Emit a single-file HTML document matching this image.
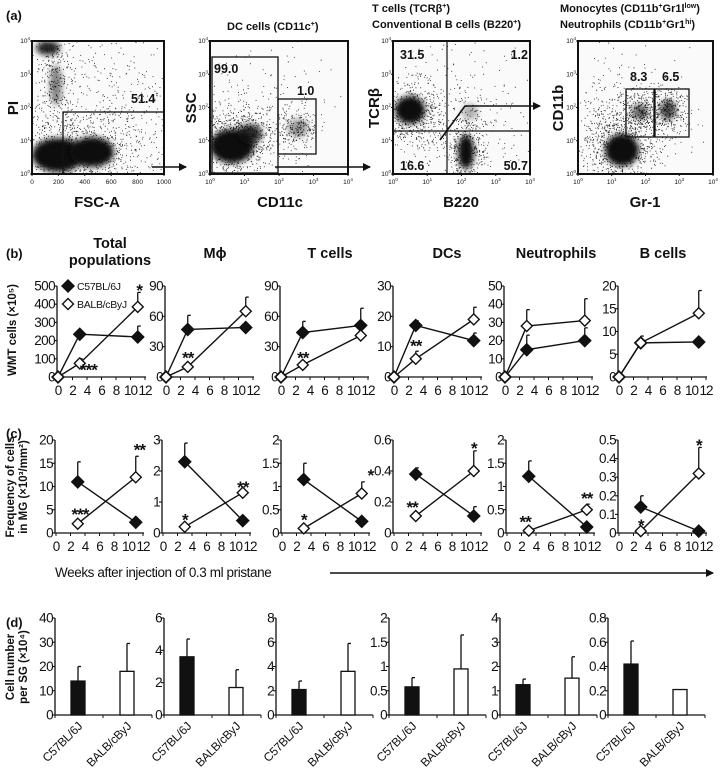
<!DOCTYPE html>
<html><head><meta charset="utf-8">
<style>
html,body{margin:0;padding:0;background:#fff;}
svg{display:block;font-family:"Liberation Sans",Arial,sans-serif;}
</style></head>
<body>
<svg id="fig" width="720" height="772" viewBox="0 0 720 772" xmlns="http://www.w3.org/2000/svg">
<defs>
<filter id="blur3" x="-50%" y="-50%" width="200%" height="200%"><feGaussianBlur stdDeviation="3"/></filter>
<filter id="blur6" x="-50%" y="-50%" width="200%" height="200%"><feGaussianBlur stdDeviation="7"/></filter>
<marker id="ah" markerWidth="8" markerHeight="8" refX="7" refY="4" orient="auto" markerUnits="userSpaceOnUse"><path d="M0,0 L8,4 L0,8 z" fill="#111"/></marker>
</defs>
<g id="panelA"></g>
<g id="panelB"></g>
<g id="panelC"></g>
<g id="panelD"></g>
</svg>
<script>
// ---------- data ----------
const titlesB = ["Total populations","M\u03d5","T cells","DCs","Neutrophils","B cells"];
const weeksB = [0,3,11];
const weeksC = [3,11];
const xTicks = [0,2,4,6,8,10,12];
const bMax = [500,90,90,30,50,20];
const bTicks = [[0,100,200,300,400,500],[0,30,60,90],[0,30,60,90],[0,10,20,30],[0,10,20,30,40,50],[0,5,10,15,20]];
const bC57 = [[0,235,220],[0,47,49],[0,44,51],[0,17,12],[0,15,20],[0,7.5,7.7]];
const bC57Err = [[0,0,280],[0,61,0],[0,55,68],[0,18.5,14.5],[0,23,27],[0,9,0]];
const bBalb = [[0,75,385],[0,10,65],[0,12,41],[0,6,19],[0,28,31],[0,7.5,14]];
const bBalbErr = [[0,100,465],[0,0,79],[0,0,0],[0,8.5,23],[0,37,43],[0,0,19]];
const bStars = [[0,4.2,68,"***"],[0,11.2,505,"*"],[1,3,24,"**"],[2,3,24,"**"],[3,3,12,"**"]];
const cMax = [20,3,2,0.6,2,0.5];
const cTicks = [[0,5,10,15,20],[0,1,2,3],[0,0.5,1,1.5,2],[0,0.2,0.4,0.6],[0,0.5,1,1.5,2],[0,0.1,0.2,0.3,0.4,0.5]];
const cC57 = [[11,2.3],[2.3,0.4],[1.15,0.25],[0.38,0.11],[1.22,0.13],[0.14,0.01]];
const cC57Err = [[15.3,0],[2.9,0],[1.5,0],[0.42,0.17],[1.55,0],[0.2,0]];
const cBalb = [[2,12],[0.2,1.3],[0.1,0.85],[0.11,0.4],[0.05,0.5],[0.01,0.32]];
const cBalbErr = [[0,16.5],[0,0],[0,1.1],[0,0.53],[0,0.62],[0,0.46]];
const cStars = [[0,3.3,5.2,"***"],[0,11.5,19,"**"],[1,3,0.6,"*"],[1,11,1.65,"**"],[2,3,0.4,"*"],[2,12.2,1.35,"*"],[3,2.5,0.2,"**"],[3,11,0.58,"*"],[4,2.5,0.36,"**"],[4,11,0.86,"**"],[5,3,0.07,"*"],[5,11,0.5,"*"]];
const dMax = [40,6,8,2,4,0.8];
const dTicks = [[0,10,20,30,40],[0,2,4,6],[0,2,4,6,8],[0,0.5,1,1.5,2],[0,1,2,3,4],[0,0.2,0.4,0.6,0.8]];
const dC57 = [14,3.6,2.1,0.58,1.25,0.42];
const dC57Err = [20,4.7,2.8,0.77,1.48,0.61];
const dBalb = [18,1.7,3.6,0.95,1.52,0.21];
const dBalbErr = [29.5,2.8,5.9,1.65,2.4,0];
const strains = ["C57BL/6J","BALB/cByJ"];

// ---------- helpers ----------
const NS="http://www.w3.org/2000/svg";
function mk(tag, parent, attrs){const e=document.createElementNS(NS,tag);for(const k in attrs)e.setAttribute(k,attrs[k]);parent.appendChild(e);return e;}
function txt(parent,x,y,s,size,opts){opts=opts||{};const e=mk("text",parent,{x:x,y:y,"font-size":size,fill:"#111","text-anchor":opts.anchor||"start","font-weight":opts.bold?"bold":"normal"});if(opts.rot)e.setAttribute("transform","rotate("+opts.rot+" "+x+" "+y+")");if(opts.ls)e.setAttribute("letter-spacing",opts.ls);e.textContent=s;return e;}
function fmt(v){return String(v);}
const axB=[57,165,280,393,504,618];
const axC=[55,162,281,393,506,618];
const axD=[55,164,276,389,500,608];
const PXW=7.25;

function diamond(g,x,y,filled,r){return mk("path",g,{d:"M"+x+","+(y-r)+" L"+(x+r)+","+y+" L"+x+","+(y+r)+" L"+(x-r)+","+y+" Z",fill:filled?"#111":"#fff",stroke:"#111","stroke-width":1.4});}

function linePanel(g, ax, top, y0, max, ticks, weeks, c57, c57e, balb, balbe, idx, prefix){
  const ys=v=>y0-(v/max)*(y0-top);
  const xs=w=>ax+1+w*PXW;
  const axes=mk("g",g,{});
  
  
  mk("line",axes,{x1:ax,y1:top,x2:ax,y2:y0,stroke:"#111","stroke-width":1.3});
  mk("line",axes,{x1:ax,y1:y0,x2:xs(12)+1,y2:y0,stroke:"#111","stroke-width":1.3});
  ticks.forEach(t=>{const y=ys(t);mk("line",axes,{x1:ax-3,y1:y,x2:ax,y2:y,stroke:"#111","stroke-width":1.1});
    const l=txt(axes,ax-2,y+4.5,fmt(t),13.5,{anchor:"end",ls:-0.6});
    
    });
  xTicks.forEach(t=>{const x=xs(t);mk("line",axes,{x1:x,y1:y0,x2:x,y2:y0+3,stroke:"#111","stroke-width":1});
    const l=txt(axes,x,y0+18,String(t),13.5,{anchor:"middle",ls:-1});
    
    });
  [[c57,c57e,true,"c57bl"],[balb,balbe,false,"balb"]].forEach(([vals,errs,filled,nm])=>{
    const s=mk("g",g,{});
    
    
    let d="";vals.forEach((v,i)=>{d+=(i?"L":"M")+xs(weeks[i])+","+ys(v)+" ";});
    mk("path",s,{d:d,fill:"none",stroke:"#111","stroke-width":1.4});
    vals.forEach((v,i)=>{const e=errs[i];if(e>v){const x=xs(weeks[i]);
      mk("line",s,{x1:x,y1:ys(v),x2:x,y2:ys(e),stroke:"#111","stroke-width":1.3});
      mk("line",s,{x1:x,y1:ys(e),x2:x+3,y2:ys(e),stroke:"#111","stroke-width":1.3});}});
    vals.forEach((v,i)=>{const p=diamond(s,xs(weeks[i]),ys(v),filled,filled?6:5.5);
      
      });
  });
  return {xs:xs,ys:ys};
}

// ---------- panel B ----------
const gB=document.getElementById("panelB");
txt(gB,6,258,"(b)",13,{bold:true});
const tPos=[110,215,330,447,556,663];
titlesB.forEach((t,i)=>{
  let el;
  if(i===0){el=mk("text",gB,{x:tPos[i],y:248,"font-size":14.5,"font-weight":"bold","text-anchor":"middle",fill:"#111"});
    el.innerHTML='<tspan x="'+tPos[i]+'" dy="0">Total</tspan><tspan x="'+tPos[i]+'" dy="17">populations</tspan>';}
  else el=txt(gB,tPos[i],258,t,14.5,{anchor:"middle",bold:true});
  
  
});
const bScales=[];
for(let i=0;i<6;i++){bScales.push(linePanel(gB,axB[i],286,377,bMax[i],bTicks[i],weeksB,bC57[i],bC57Err[i],bBalb[i],bBalbErr[i],i,"b"));}
bStars.forEach(([p,w,v,s])=>{const sc=bScales[p];const e=txt(gB,sc.xs(w),sc.ys(v)+11,s,17,{anchor:"middle",bold:true,ls:-1});
  
  });
const yb=txt(gB,16,330,"WMT cells (\u00d710\u2075)",11.5,{anchor:"middle",bold:true,rot:-90});


const lg=mk("g",gB,{});


diamond(lg,68,286,true,6);
txt(lg,77,290,"C57BL/6J",10.5,{ls:-0.3});
diamond(lg,68,304,false,5.5);
txt(lg,77,308,"BALB/cByJ",10.5,{ls:-0.3});

// ---------- panel C ----------
const gC=document.getElementById("panelC");
txt(gC,6,438,"(c)",13,{bold:true});
const cScales=[];
for(let i=0;i<6;i++){cScales.push(linePanel(gC,axC[i],440,533,cMax[i],cTicks[i],weeksC,cC57[i],cC57Err[i],cBalb[i],cBalbErr[i],i,"c"));}
cStars.forEach(([p,w,v,s])=>{const sc=cScales[p];const e=txt(gC,sc.xs(w),sc.ys(v)+11,s,17,{anchor:"middle",bold:true,ls:-1});
  
  });
const yc=mk("text",gC,{x:0,y:0,"font-size":11.5,"font-weight":"bold","text-anchor":"middle",fill:"#111",transform:"translate(0,487) rotate(-90)"});
yc.innerHTML='<tspan x="0" y="14">Frequency of cells</tspan><tspan x="0" y="27">in MG (\u00d710\u00b3/mm\u00b2)</tspan>';


const wk=txt(gC,55,577,"Weeks after injection of 0.3 ml pristane",13.5,{ls:-0.4});


const arr=mk("line",gC,{x1:330,y1:573,x2:713,y2:573,stroke:"#111","stroke-width":1.6,"marker-end":"url(#ah)"});



// ---------- panel D ----------
const gD=document.getElementById("panelD");
txt(gD,6,627,"(d)",13,{bold:true});
const yd=mk("text",gD,{x:0,y:0,"font-size":11.5,"font-weight":"bold","text-anchor":"middle",fill:"#111",transform:"translate(0,667) rotate(-90)"});
yd.innerHTML='<tspan x="0" y="14">Cell number</tspan><tspan x="0" y="27">per SG (\u00d710\u2074)</tspan>';


for(let i=0;i<6;i++){
  const ax=axD[i],top=618,y0=715,max=dMax[i];
  const ys=v=>y0-(v/max)*(y0-top);
  const g=mk("g",gD,{});
  
  
  mk("line",g,{x1:ax,y1:top,x2:ax,y2:y0,stroke:"#111","stroke-width":1.3});
  mk("line",g,{x1:ax,y1:y0,x2:ax+97,y2:y0,stroke:"#111","stroke-width":1.3});
  [0,48,97].forEach(o=>mk("line",g,{x1:ax+o,y1:y0,x2:ax+o,y2:y0+3,stroke:"#111","stroke-width":1}));
  dTicks[i].forEach(t=>{const y=ys(t);mk("line",g,{x1:ax-3,y1:y,x2:ax,y2:y,stroke:"#111","stroke-width":1.1});
    const l=txt(g,ax-2,y+4.5,fmt(t),13.5,{anchor:"end",ls:-0.6});
    
    });
  [[dC57[i],dC57Err[i],16,"#111","c57bl"],[dBalb[i],dBalbErr[i],65,"#fff","balb"]].forEach(([v,e,o,fill,nm],k)=>{
    if(e>v){mk("line",g,{x1:ax+o+7,y1:ys(v),x2:ax+o+7,y2:ys(e),stroke:"#111","stroke-width":1.3});
      mk("line",g,{x1:ax+o+7,y1:ys(e),x2:ax+o+10,y2:ys(e),stroke:"#111","stroke-width":1.3});}
    const b=mk("rect",g,{x:ax+o,y:ys(v),width:14,height:y0-ys(v),fill:fill,stroke:"#111","stroke-width":1.3});
    
    
    const l=txt(g,ax+o+12,727,strains[k],12,{anchor:"end",rot:-45,ls:-0.3});
    
    
  });
}

// ---------- panel A (flow cytometry density, decorative) ----------
const gA=document.getElementById("panelA");
txt(gA,6,20,"(a)",13,{bold:true});
let seed=12345;
function rnd(){seed=(seed*1103515245+12345)%2147483648;return seed/2147483648;}
function gauss(){let u=0,v=0;while(u===0)u=rnd();v=rnd();return Math.sqrt(-2*Math.log(u))*Math.cos(2*Math.PI*v);}
function blob(g,cx,cy,rx,ry,op,f){mk("ellipse",g,{cx:cx,cy:cy,rx:rx,ry:ry,fill:"#111",opacity:op,filter:"url(#"+(f||"blur3")+")"});}
function speckle(g,cx,cy,sx,sy,n){let d="";for(let k=0;k<n;k++){const x=cx+gauss()*sx,y=cy+gauss()*sy;d+="M"+x.toFixed(1)+","+y.toFixed(1)+"h0.9v0.9h-0.9z";}mk("path",g,{d:d,fill:"#222"});}
function flowPlot(x0,y0,x1,y1,name,xlog,clusters,specks){
  const g=mk("g",gA,{});
  
  
  const cp="clip-"+name;
  const c=mk("clipPath",g,{id:cp});mk("rect",c,{x:x0,y:y0,width:x1-x0,height:y1-y0});
  const inner=mk("g",g,{"clip-path":"url(#"+cp+")"});
  mk("rect",inner,{x:x0,y:y0,width:x1-x0,height:y1-y0,fill:"#fafafa"});
  specks.forEach(s=>speckle(inner,...s));
  clusters.forEach(cl=>blob(inner,...cl));
  mk("rect",g,{x:x0,y:y0,width:x1-x0,height:y1-y0,fill:"none",stroke:"#111","stroke-width":2});
  const h=(y1-y0);
  for(let k=0;k<=4;k++){const y=y1-k*h/4;
    mk("line",g,{x1:x0-2,y1:y,x2:x0,y2:y,stroke:"#111","stroke-width":1});
    const t=mk("text",g,{x:x0-2,y:y+2,"font-size":6.5,"text-anchor":"end",fill:"#111"});t.innerHTML='10<tspan dy="-3" font-size="4.5">'+k+'</tspan>';}
  const w=(x1-x0);
  if(xlog){for(let k=0;k<=4;k++){const x=x0+k*w/4;mk("line",g,{x1:x,y1:y1,x2:x,y2:y1+2,stroke:"#111","stroke-width":1});
    const t=mk("text",g,{x:x,y:y1+10,"font-size":6.5,"text-anchor":"middle",fill:"#111"});t.innerHTML='10<tspan dy="-3" font-size="4.5">'+k+'</tspan>';}}
  else{[0,200,400,600,800,1000].forEach((v)=>{const x=x0+v/1000*w;mk("line",g,{x1:x,y1:y1,x2:x,y2:y1+2,stroke:"#111","stroke-width":1});
    txt(g,x,y1+10,String(v),6.5,{anchor:"middle"});});}
  return g;
}
const p1=flowPlot(32,41,164,174,"flow-plot-pi-fsc",false,
  [[58,155,26,17,1],[92,152,22,15,1],[48,48,12,7,0.9],[56,85,6,20,0.5]],
  [[75,150,35,20,900],[55,70,10,30,300],[110,110,45,45,500]]);
mk("rect",p1,{x:63,y:112,width:101,height:62,fill:"none",stroke:"#111","stroke-width":1.3});
txt(p1,131,103,"51.4",12.5,{bold:true});
const p2=flowPlot(210,41,348,174,"flow-plot-ssc-cd11c",true,
  [[232,146,22,17,1],[250,134,12,10,0.85],[298,128,10,9,0.4]],
  [[235,140,20,18,900],[298,128,10,10,200],[260,120,40,40,250]]);
mk("rect",p2,{x:212,y:57,width:66,height:116,fill:"none",stroke:"#111","stroke-width":1.3});
mk("rect",p2,{x:278,y:99,width:38,height:55,fill:"none",stroke:"#111","stroke-width":1.3});
txt(p2,214,73,"99.0",12.5,{bold:true});
txt(p2,297,95,"1.0",12.5,{bold:true});
const p3=flowPlot(393,41,530,174,"flow-plot-tcrb-b220",true,
  [[410,110,15,14,1],[466,152,8,17,1],[470,112,8,8,0.3]],
  [[412,112,16,16,600],[466,150,9,18,400],[460,120,40,40,350]]);
mk("line",p3,{x1:447,y1:41,x2:447,y2:174,stroke:"#111","stroke-width":1.2});
mk("line",p3,{x1:393,y1:131,x2:530,y2:131,stroke:"#111","stroke-width":1.3});
txt(p3,400,59,"31.5",12.5,{bold:true});
txt(p3,528,59,"1.2",12.5,{bold:true,anchor:"end"});
txt(p3,400,170,"16.6",12.5,{bold:true});
txt(p3,528,170,"50.7",12.5,{bold:true,anchor:"end"});
const p4=flowPlot(578,41,713,174,"flow-plot-cd11b-gr1",true,
  [[622,150,17,16,1],[640,112,8,8,0.6],[668,110,8,10,0.7]],
  [[620,145,20,20,800],[640,112,10,10,250],[668,110,9,12,300],[620,115,30,30,300]]);
mk("rect",p4,{x:626,y:89,width:28,height:48,fill:"none",stroke:"#111","stroke-width":1.3});
mk("rect",p4,{x:655,y:89,width:34,height:48,fill:"none",stroke:"#111","stroke-width":1.3});
txt(p4,630,81,"8.3",12.5,{bold:true});
txt(p4,662,81,"6.5",12.5,{bold:true});
[["PI",18,108,-90],["SSC",196,108,-90],["TCR\u03b2",379,108,-90],["CD11b",563,108,-90]].forEach(([s,x,y,r])=>{const e=txt(gA,x,y,s,15,{bold:true,anchor:"middle",rot:r});
  
  });
[["FSC-A",97],["CD11c",280],["B220",461],["Gr-1",645]].forEach(([s,x])=>{const e=txt(gA,x,207,s,15,{bold:true,anchor:"middle"});
  
  });
const t2=mk("text",gA,{x:227,y:30,"font-size":11,fill:"#111","font-weight":"bold"});t2.innerHTML='DC cells (CD11c<tspan dy="-4" font-size="7">+</tspan><tspan dy="4">)</tspan>';
const t3=mk("text",gA,{x:372,y:12,"font-size":11,fill:"#111","font-weight":"bold"});t3.innerHTML='T cells (TCR\u03b2<tspan dy="-4" font-size="7">+</tspan><tspan dy="4">)</tspan>';
const t3b=mk("text",gA,{x:372,y:28,"font-size":11,fill:"#111","font-weight":"bold"});t3b.innerHTML='Conventional B cells (B220<tspan dy="-4" font-size="7">+</tspan><tspan dy="4">)</tspan>';
const t4=mk("text",gA,{x:560,y:12,"font-size":11,fill:"#111","font-weight":"bold"});t4.innerHTML='Monocytes (CD11b<tspan dy="-4" font-size="7">+</tspan><tspan dy="4">Gr1l</tspan><tspan dy="-4" font-size="7">low</tspan><tspan dy="4">)</tspan>';
const t4b=mk("text",gA,{x:560,y:28,"font-size":11,fill:"#111","font-weight":"bold"});t4b.innerHTML='Neutrophils (CD11b<tspan dy="-4" font-size="7">+</tspan><tspan dy="4">Gr1</tspan><tspan dy="-4" font-size="7">hi</tspan><tspan dy="4">)</tspan>';










const a1=mk("line",gA,{x1:152,y1:167,x2:186,y2:167,stroke:"#111","stroke-width":1.6,"marker-end":"url(#ah)"});


const a2=mk("line",gA,{x1:275,y1:167,x2:370,y2:167,stroke:"#111","stroke-width":1.6,"marker-end":"url(#ah)"});


const a3=mk("path",gA,{d:"M440,140 L465,106 L540,106",fill:"none",stroke:"#111","stroke-width":1.6,"marker-end":"url(#ah)"});


</script>
</body></html>
